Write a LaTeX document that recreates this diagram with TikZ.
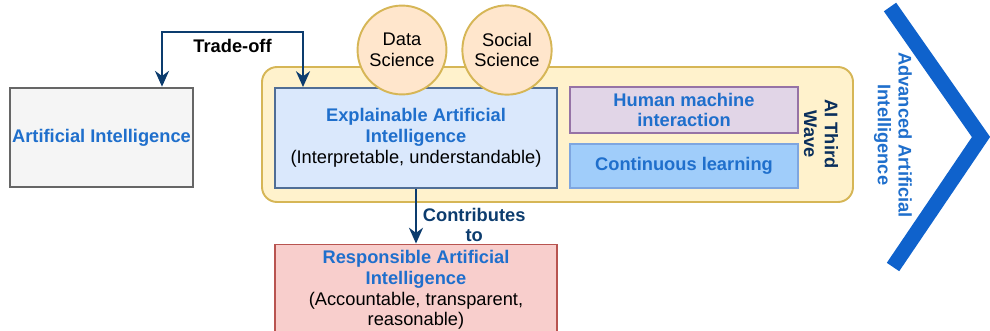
\documentclass[tikz,border=0pt]{standalone}
\usepackage{fontspec}
\setmainfont{Liberation Sans}
\usepackage{tikz}
\usetikzlibrary{arrows.meta}
\definecolor{xblue}{HTML}{1F6FCC}
\definecolor{navy}{HTML}{0C3C6E}
\definecolor{wavenavy}{HTML}{0A2F5C}
\definecolor{chevblue}{HTML}{0F62CC}

\begin{document}
\begin{tikzpicture}
\useasboundingbox (0,0) rectangle (19.8,6.6);
\begin{scope}[every node/.style={draw,line width=1.1pt,align=center,text=xblue,
              font=\fontsize{10.4}{11.8}\selectfont\bfseries}]
    \node (wave)[fill={rgb,255:red,255;green,242;blue,204},draw={rgb,255:red,214;green,182;blue,86},rounded corners=0.3cm,
                 minimum width=11.82cm,minimum height=2.7cm] at (11.15,3.91) {};
    \node (ai)[fill=black!4,draw=black!60,line width=1.5pt,inner sep=1pt,
               minimum width=3.66cm,minimum height=1.98cm] at (2.03,3.85) {Artificial Intelligence};
    \node (xai)[fill={rgb,255:red,218;green,232;blue,252},draw={rgb,255:red,80;green,110;blue,150},
                minimum width=5.64cm,minimum height=2cm] at (8.32,3.84)
                {Explainable Artificial\\Intelligence\\\mdseries\color{black}(Interpretable, understandable)};
    \node (data)[circle,fill={rgb,255:red,255;green,230;blue,204},draw={rgb,255:red,214;green,182;blue,86},
                 minimum size=1.72cm,text=black,font=\fontsize{10.4}{11.8}\selectfont] at (8.04,5.6) {Data\\Science};
    \node (social)[circle,fill={rgb,255:red,255;green,230;blue,204},draw={rgb,255:red,214;green,182;blue,86},
                   minimum size=1.72cm,text=black,font=\fontsize{10.4}{11.8}\selectfont] at (10.14,5.6) {Social\\Science};
    \node (hmi)[fill={rgb,255:red,225;green,213;blue,231},draw={rgb,255:red,150;green,115;blue,166},
                minimum width=4.56cm,minimum height=0.88cm] at (13.68,4.4) {Human machine\\interaction};
    \node (learn)[fill={rgb,255:red,160;green,205;blue,250},draw={rgb,255:red,126;green,166;blue,224},
                  minimum width=4.56cm,minimum height=0.88cm] at (13.68,3.28) {Continuous learning};
    \node (third)[draw=none,rotate=-90,text=wavenavy] at (16.42,3.92) {AI Third\\Wave};
    \node (rai)[fill={rgb,255:red,248;green,206;blue,204},draw={rgb,255:red,184;green,84;blue,80},
                minimum width=5.64cm,minimum height=1.8cm] at (8.32,0.8)
                {Responsible Artificial\\Intelligence\\\mdseries\color{black}(Accountable, transparent,\\
                 \mdseries\color{black}reasonable)};
    \node (adv)[draw=none,rotate=-90] at (17.86,3.9) {Advanced Artificial\\Intelligence};
\end{scope}

% chevron
\draw[line width=0.3cm,draw=chevblue,miter limit=10] (17.8,6.46) -- (19.62,3.86) -- (17.86,1.26);

\coordinate (tl) at (3.24,5.96);
\coordinate (tr) at (6.06,5.96);
\begin{scope}[every node/.style={text=black,font=\fontsize{10.4}{11.8}\selectfont\bfseries,align=center}]
    \draw[navy,line width=1.2pt,{Stealth[length=9pt,width=8pt]}-{Stealth[length=9pt,width=8pt]}]
        (ai.north -| tl) -- (tl) -- node[below] {Trade-off} (tr) -- (xai.north -| tr);
    \draw[navy,line width=1.2pt,-{Stealth[length=9pt,width=8pt]}]
        (xai.south) -- node[right,pos=0.66,text=navy] {Contributes\\to} (rai.north);
\end{scope}
\end{tikzpicture}
\end{document}
